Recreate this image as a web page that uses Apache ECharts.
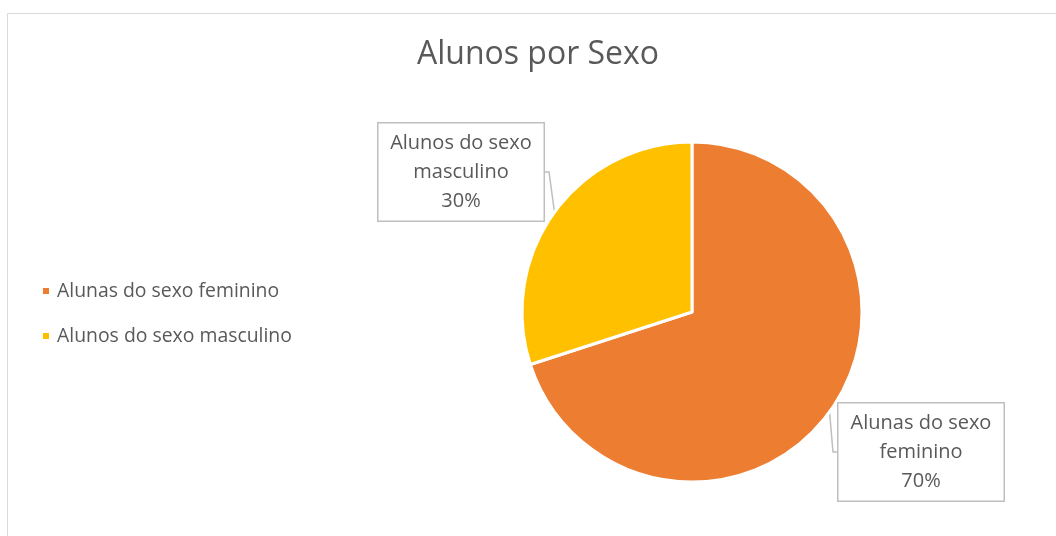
<!DOCTYPE html>
<html>
<head>
<meta charset="utf-8">
<script src="https://cdn.jsdelivr.net/npm/echarts@6/dist/echarts.min.js"></script>
<style>
  html, body { margin: 0; padding: 0; background: #fff; }
  #chart { width: 1056px; height: 536px; }
</style>
</head>
<body>
<div id="chart"></div>
<script>
const categories = ['Alunas do sexo feminino', 'Alunos do sexo masculino']
const labelNames = ['Alunas do sexo\nfeminino', 'Alunos do sexo\nmasculino']
const values = [70, 30]
const colors = ['#ED7D31', '#FFC000']

const font = "'Open Sans', 'Noto Sans', sans-serif"
const textColor = '#595959'

// where each callout box sits (center), in pixels
const labelSpots = [[921, 452], [461, 172]]

const myChart = echarts.init(document.getElementById('chart'))

const option = {
  backgroundColor: '#fff',
  animation: false,
  color: colors,
  title: {
    text: 'Alunos por Sexo',
    left: 533,
    textAlign: 'center',
    top: 34,
    textStyle: {
      fontFamily: font,
      fontSize: 32,
      fontWeight: 'normal',
      color: textColor
    }
  },
  legend: {
    orient: 'vertical',
    left: 36,
    top: 276,
    icon: 'rect',
    itemWidth: 8,
    itemHeight: 8,
    itemGap: 25,
    textStyle: {
      fontFamily: font,
      fontSize: 19.4,
      lineHeight: 20,
      color: textColor,
      padding: [0, 0, 0, 2]
    },
    data: categories
  },
  graphic: [
    {
      type: 'rect',
      shape: { x: 7.5, y: 13.5, width: 1100, height: 600 },
      style: { fill: 'none', stroke: '#d9d9d9', lineWidth: 1 },
      silent: true
    }
  ],
  series: [
    {
      type: 'pie',
      center: [692, 312],
      radius: [0, 170],
      startAngle: 90,
      clockwise: true,
      itemStyle: {
        borderColor: '#fff',
        borderWidth: 3
      },
      label: {
        show: true,
        position: 'outside',
        formatter: function (p) {
          return labelNames[p.dataIndex] + '\n' + p.value + '%'
        },
        fontFamily: font,
        fontSize: 20,
        lineHeight: 29,
        color: textColor,
        align: 'center',
        backgroundColor: '#fff',
        borderColor: '#bfbfbf',
        borderWidth: 1.5,
        width: 145,
        padding: [5, 10, 5, 10]
      },
      labelLine: {
        show: true,
        length: 8,
        length2: 4,
        lineStyle: { color: '#bfbfbf', width: 1.5 }
      },
      labelLayout: function (params) {
        const s = labelSpots[params.dataIndex]
        return {
          x: s[0],
          y: s[1],
          align: 'center',
          verticalAlign: 'middle'
        }
      },
      data: categories.map(function (c, i) {
        return { name: c, value: values[i] }
      })
    }
  ]
}

myChart.setOption(option)
</script>
</body>
</html>
